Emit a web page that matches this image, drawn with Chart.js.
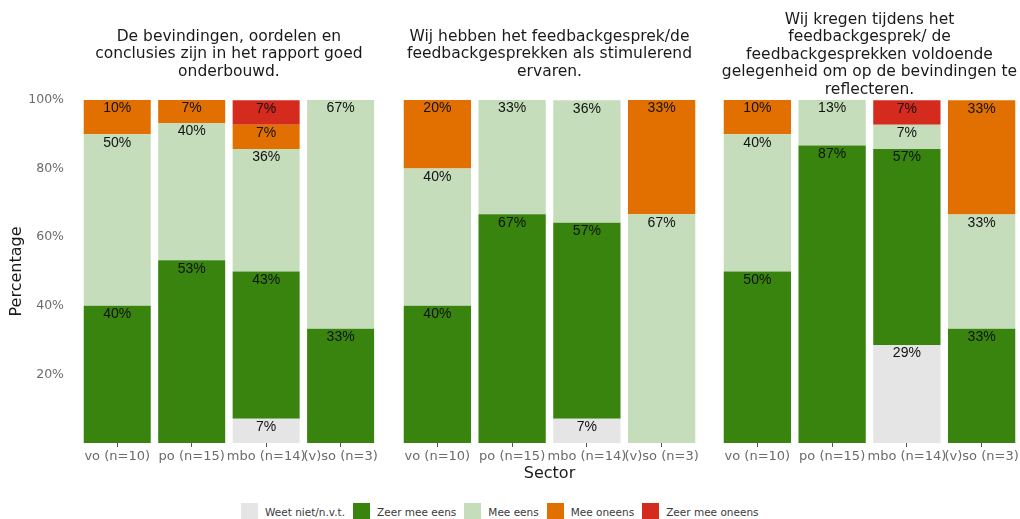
<!DOCTYPE html>
<html>
<head>
<meta charset="utf-8">
<script src="https://cdn.jsdelivr.net/npm/chart.js@4/dist/chart.umd.min.js"></script>
<style>
    body { margin: 0; background: #fff; }
    #lienzo { position: relative; width: 1020px; height: 519px; overflow: hidden; }
    .panel { position: absolute; top: 0; }
    #leyenda { position: absolute; top: 503px; left: 241px; display: flex; align-items: center;
        font-family: "DejaVu Sans"; font-size: 10.5px; color: #3a3a3a; }
    #leyenda .caja { width: 17px; height: 17px; margin-right: 7px; }
    #leyenda .texto { margin-right: 8px; white-space: nowrap; }
</style>
</head>
<body>
<div id="lienzo">
    <canvas id="grafico1" class="panel" style="left:0px" width="380" height="467"></canvas>
    <canvas id="grafico2" class="panel" style="left:400px" width="301" height="485"></canvas>
    <canvas id="grafico3" class="panel" style="left:720px" width="301" height="465"></canvas>
    <div id="leyenda"></div>
</div>
<script>
//Datos del gráfico
const sectores = ['vo (n=10)', 'po (n=15)', 'mbo (n=14)', '(v)so (n=3)'];
const categorias = ['Weet niet/n.v.t.', 'Zeer mee eens', 'Mee eens', 'Mee oneens', 'Zeer mee oneens'];
const colores = ['#e5e5e5', '#38840e', '#c5ddbb', '#e17000', '#d52b1e'];
const marcasY = [0, 20, 40, 60, 80, 100];

const titulo1 = ['De bevindingen, oordelen en', 'conclusies zijn in het rapport goed', 'onderbouwd.'];
const titulo2 = ['Wij hebben het feedbackgesprek/de', 'feedbackgesprekken als stimulerend', 'ervaren.'];
const titulo3 = ['Wij kregen tijdens het', 'feedbackgesprek/ de', 'feedbackgesprekken voldoende',
    'gelegenheid om op de bevindingen te', 'reflecteren.'];

//Un renglón por categoría (mismo orden que categorias), un valor por sector
const rapport = [
    [0, 0, 7.1, 0],
    [40, 53.3, 42.9, 33.3],
    [50, 40, 35.7, 66.7],
    [10, 6.7, 7.1, 0],
    [0, 0, 7.1, 0]
];
const stimulerend = [
    [0, 0, 7.1, 0],
    [40, 66.7, 57.1, 0],
    [40, 33.3, 35.7, 66.7],
    [20, 0, 0, 33.3],
    [0, 0, 0, 0]
];
const reflecteren = [
    [0, 0, 28.6, 0],
    [50, 86.7, 57.1, 33.3],
    [40, 13.3, 7.1, 33.3],
    [10, 0, 0, 33.3],
    [0, 0, 7.1, 0]
];

//Plugin para escribir el porcentaje arriba de cada segmento
const etiquetas = {
    id: 'etiquetas',
    afterDatasetsDraw(chart) {
        const ctx = chart.ctx;
        ctx.save();
        ctx.font = '14px "Liberation Sans", Arial';
        ctx.fillStyle = '#111';
        ctx.textAlign = 'center';
        ctx.textBaseline = 'middle';
        chart.data.datasets.forEach(function(ds, i) {
            chart.getDatasetMeta(i).data.forEach(function(barra, j) {
                const v = ds.data[j];
                if (v > 0) {
                    ctx.fillText(Math.round(v) + '%', barra.x, barra.y + 8.5);
                }
            });
        });
        ctx.restore();
    }
};

const gris = '#6b6b6b';

function graficoApilado(canvas, titulo, valores, conEjeY, conTituloX) {
    const n = titulo.length;
    const alto = n * 17.5;
    const arriba = (n > 3 ? 54.5 : 54) - alto / 2;
    const abajo = 100 - arriba - alto;

    const datasets = categorias.map(function(cat, i) {
        return {
            label: cat,
            data: valores[i],
            backgroundColor: colores[i],
            borderWidth: 0,
            barPercentage: 0.9,
            categoryPercentage: 1.0
        };
    });

    //alto del eje x (el eje y del primer panel pide 23.5px abajo por el padding de sus marcas)
    let altoX = 22;
    if (conTituloX) altoX = 42;
    if (conEjeY) altoX = 24;

    return new Chart(document.getElementById(canvas), {
        type: 'bar',
        data: { labels: sectores, datasets: datasets },
        plugins: [etiquetas],
        options: {
            responsive: false,
            animation: false,
            devicePixelRatio: 1,
            layout: { padding: { left: 0, right: conEjeY ? 2 : 1, top: 0, bottom: 0 } },
            plugins: {
                legend: { display: false },
                tooltip: { enabled: false },
                title: {
                    display: true,
                    text: titulo,
                    fullSize: false,
                    color: '#1a1a1a',
                    font: { family: 'DejaVu Sans', size: 15.5, weight: 'normal', lineHeight: 17.5 / 15.5 },
                    padding: { top: arriba, bottom: abajo }
                }
            },
            scales: {
                x: {
                    stacked: true,
                    grid: { display: true, drawOnChartArea: false, drawTicks: true, tickLength: 4, color: '#555', offset: false },
                    border: { display: false },
                    ticks: { color: gris, font: { family: 'DejaVu Sans', size: 13 }, padding: 2, maxRotation: 0, autoSkip: false },
                    title: {
                        display: conTituloX,
                        text: 'Sector',
                        color: '#1a1a1a',
                        font: { family: 'DejaVu Sans', size: 16 },
                        padding: { top: 0, bottom: 2 }
                    },
                    afterFit: function(escala) { escala.height = altoX; }
                },
                y: {
                    display: conEjeY,
                    stacked: true,
                    min: 0,
                    max: 100,
                    afterBuildTicks: function(escala) {
                        escala.ticks = marcasY.map(function(v) { return { value: v }; });
                    },
                    ticks: {
                        color: gris,
                        font: { family: 'DejaVu Sans', size: 12.5 },
                        padding: 16,
                        callback: function(v) { return v === 0 ? '' : v + '%'; }
                    },
                    grid: { display: false, drawTicks: false },
                    border: { display: false },
                    title: {
                        display: true,
                        text: 'Percentage',
                        color: '#1a1a1a',
                        font: { family: 'DejaVu Sans', size: 16 },
                        padding: { top: 7, bottom: 0 }
                    },
                    afterFit: function(escala) { escala.width = conEjeY ? 80 : 0; }
                }
            }
        }
    });
}

graficoApilado('grafico1', titulo1, rapport, true, false);
graficoApilado('grafico2', titulo2, stimulerend, false, true);
graficoApilado('grafico3', titulo3, reflecteren, false, false);

//Leyenda en HTML
const leyenda = document.getElementById('leyenda');
categorias.forEach(function(cat, i) {
    const caja = document.createElement('span');
    caja.className = 'caja';
    caja.style.background = colores[i];
    const texto = document.createElement('span');
    texto.className = 'texto';
    texto.textContent = cat;
    leyenda.appendChild(caja);
    leyenda.appendChild(texto);
});
</script>
</body>
</html>
